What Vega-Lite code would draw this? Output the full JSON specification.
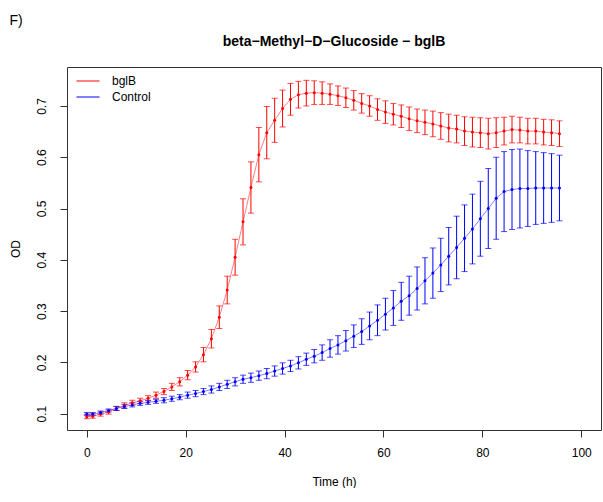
{
  "$schema": "https://vega.github.io/schema/vega-lite/v6.json",
  "background": "white",
  "padding": {"left": 8, "top": 13, "right": 0, "bottom": 0},
  "config": {
    "font": "Liberation Sans",
    "view": {"stroke": "#333", "strokeWidth": 1},
    "axis": {"labelFont": "Liberation Sans", "titleFont": "Liberation Sans", "labelFontSize": 12, "titleFontSize": 12, "labelColor": "#000", "titleColor": "#000", "titleFontWeight": "normal", "tickColor": "#333", "grid": false, "domain": false, "tickSize": 7},
    "title": {"font": "Liberation Sans", "color": "#000"}
  },
  "title": {"text": "F)", "anchor": "start", "frame": "bounds", "fontSize": 14, "fontWeight": "normal", "offset": 7, "dx": 1},
  "datasets": {
    "growth": [
      {"group":"bglB","time":0,"od":0.094,"lo":0.090,"hi":0.098},
      {"group":"bglB","time":1.2,"od":0.095,"lo":0.091,"hi":0.099},
      {"group":"bglB","time":2.8,"od":0.099,"lo":0.095,"hi":0.103},
      {"group":"bglB","time":4.4,"od":0.103,"lo":0.099,"hi":0.107},
      {"group":"bglB","time":6.0,"od":0.110,"lo":0.106,"hi":0.114},
      {"group":"bglB","time":7.6,"od":0.116,"lo":0.111,"hi":0.121},
      {"group":"bglB","time":9.2,"od":0.121,"lo":0.116,"hi":0.126},
      {"group":"bglB","time":10.8,"od":0.125,"lo":0.120,"hi":0.130},
      {"group":"bglB","time":12.4,"od":0.130,"lo":0.125,"hi":0.135},
      {"group":"bglB","time":14.0,"od":0.136,"lo":0.130,"hi":0.142},
      {"group":"bglB","time":15.6,"od":0.143,"lo":0.137,"hi":0.149},
      {"group":"bglB","time":17.2,"od":0.152,"lo":0.145,"hi":0.159},
      {"group":"bglB","time":18.8,"od":0.162,"lo":0.154,"hi":0.170},
      {"group":"bglB","time":20.4,"od":0.175,"lo":0.166,"hi":0.184},
      {"group":"bglB","time":22.0,"od":0.191,"lo":0.181,"hi":0.201},
      {"group":"bglB","time":23.6,"od":0.215,"lo":0.201,"hi":0.229},
      {"group":"bglB","time":25.2,"od":0.246,"lo":0.228,"hi":0.264},
      {"group":"bglB","time":26.8,"od":0.288,"lo":0.266,"hi":0.310},
      {"group":"bglB","time":28.4,"od":0.341,"lo":0.314,"hi":0.368},
      {"group":"bglB","time":30.0,"od":0.405,"lo":0.370,"hi":0.440},
      {"group":"bglB","time":31.6,"od":0.474,"lo":0.429,"hi":0.519},
      {"group":"bglB","time":33.2,"od":0.541,"lo":0.491,"hi":0.591},
      {"group":"bglB","time":34.8,"od":0.605,"lo":0.552,"hi":0.658},
      {"group":"bglB","time":36.4,"od":0.648,"lo":0.597,"hi":0.699},
      {"group":"bglB","time":38.0,"od":0.672,"lo":0.629,"hi":0.715},
      {"group":"bglB","time":39.6,"od":0.695,"lo":0.659,"hi":0.731},
      {"group":"bglB","time":41.2,"od":0.713,"lo":0.682,"hi":0.744},
      {"group":"bglB","time":42.8,"od":0.722,"lo":0.696,"hi":0.748},
      {"group":"bglB","time":44.4,"od":0.725,"lo":0.700,"hi":0.750},
      {"group":"bglB","time":46.0,"od":0.726,"lo":0.703,"hi":0.749},
      {"group":"bglB","time":47.6,"od":0.725,"lo":0.703,"hi":0.747},
      {"group":"bglB","time":49.2,"od":0.723,"lo":0.703,"hi":0.743},
      {"group":"bglB","time":50.8,"od":0.720,"lo":0.701,"hi":0.739},
      {"group":"bglB","time":52.4,"od":0.716,"lo":0.697,"hi":0.735},
      {"group":"bglB","time":54.0,"od":0.711,"lo":0.692,"hi":0.730},
      {"group":"bglB","time":55.6,"od":0.705,"lo":0.686,"hi":0.724},
      {"group":"bglB","time":57.2,"od":0.700,"lo":0.680,"hi":0.720},
      {"group":"bglB","time":58.8,"od":0.693,"lo":0.672,"hi":0.714},
      {"group":"bglB","time":60.4,"od":0.688,"lo":0.666,"hi":0.710},
      {"group":"bglB","time":62.0,"od":0.684,"lo":0.663,"hi":0.705},
      {"group":"bglB","time":63.6,"od":0.680,"lo":0.658,"hi":0.702},
      {"group":"bglB","time":65.2,"od":0.675,"lo":0.652,"hi":0.698},
      {"group":"bglB","time":66.8,"od":0.671,"lo":0.648,"hi":0.694},
      {"group":"bglB","time":68.4,"od":0.668,"lo":0.644,"hi":0.692},
      {"group":"bglB","time":70.0,"od":0.665,"lo":0.640,"hi":0.690},
      {"group":"bglB","time":71.6,"od":0.661,"lo":0.635,"hi":0.687},
      {"group":"bglB","time":73.2,"od":0.657,"lo":0.630,"hi":0.684},
      {"group":"bglB","time":74.8,"od":0.655,"lo":0.628,"hi":0.682},
      {"group":"bglB","time":76.4,"od":0.651,"lo":0.623,"hi":0.679},
      {"group":"bglB","time":78.0,"od":0.649,"lo":0.620,"hi":0.678},
      {"group":"bglB","time":79.6,"od":0.648,"lo":0.619,"hi":0.677},
      {"group":"bglB","time":81.2,"od":0.646,"lo":0.616,"hi":0.676},
      {"group":"bglB","time":82.8,"od":0.648,"lo":0.619,"hi":0.677},
      {"group":"bglB","time":84.4,"od":0.651,"lo":0.624,"hi":0.678},
      {"group":"bglB","time":86.0,"od":0.654,"lo":0.628,"hi":0.680},
      {"group":"bglB","time":87.6,"od":0.653,"lo":0.628,"hi":0.678},
      {"group":"bglB","time":89.2,"od":0.651,"lo":0.626,"hi":0.676},
      {"group":"bglB","time":90.8,"od":0.651,"lo":0.626,"hi":0.676},
      {"group":"bglB","time":92.4,"od":0.649,"lo":0.624,"hi":0.674},
      {"group":"bglB","time":94.0,"od":0.648,"lo":0.623,"hi":0.673},
      {"group":"bglB","time":95.6,"od":0.646,"lo":0.621,"hi":0.671},
      {"group":"Control","time":0,"od":0.099,"lo":0.096,"hi":0.102},
      {"group":"Control","time":1.2,"od":0.099,"lo":0.096,"hi":0.102},
      {"group":"Control","time":2.8,"od":0.102,"lo":0.099,"hi":0.105},
      {"group":"Control","time":4.4,"od":0.106,"lo":0.103,"hi":0.109},
      {"group":"Control","time":6.0,"od":0.110,"lo":0.106,"hi":0.114},
      {"group":"Control","time":7.6,"od":0.114,"lo":0.110,"hi":0.118},
      {"group":"Control","time":9.2,"od":0.117,"lo":0.113,"hi":0.121},
      {"group":"Control","time":10.8,"od":0.120,"lo":0.116,"hi":0.124},
      {"group":"Control","time":12.4,"od":0.122,"lo":0.118,"hi":0.126},
      {"group":"Control","time":14.0,"od":0.124,"lo":0.120,"hi":0.128},
      {"group":"Control","time":15.6,"od":0.126,"lo":0.121,"hi":0.131},
      {"group":"Control","time":17.2,"od":0.129,"lo":0.124,"hi":0.134},
      {"group":"Control","time":18.8,"od":0.132,"lo":0.127,"hi":0.137},
      {"group":"Control","time":20.4,"od":0.136,"lo":0.130,"hi":0.142},
      {"group":"Control","time":22.0,"od":0.139,"lo":0.133,"hi":0.145},
      {"group":"Control","time":23.6,"od":0.143,"lo":0.137,"hi":0.149},
      {"group":"Control","time":25.2,"od":0.147,"lo":0.140,"hi":0.154},
      {"group":"Control","time":26.8,"od":0.152,"lo":0.145,"hi":0.159},
      {"group":"Control","time":28.4,"od":0.157,"lo":0.149,"hi":0.165},
      {"group":"Control","time":30.0,"od":0.162,"lo":0.154,"hi":0.170},
      {"group":"Control","time":31.6,"od":0.167,"lo":0.159,"hi":0.175},
      {"group":"Control","time":33.2,"od":0.170,"lo":0.161,"hi":0.179},
      {"group":"Control","time":34.8,"od":0.174,"lo":0.165,"hi":0.183},
      {"group":"Control","time":36.4,"od":0.178,"lo":0.168,"hi":0.188},
      {"group":"Control","time":38.0,"od":0.183,"lo":0.173,"hi":0.193},
      {"group":"Control","time":39.6,"od":0.188,"lo":0.177,"hi":0.199},
      {"group":"Control","time":41.2,"od":0.193,"lo":0.182,"hi":0.204},
      {"group":"Control","time":42.8,"od":0.199,"lo":0.187,"hi":0.211},
      {"group":"Control","time":44.4,"od":0.206,"lo":0.194,"hi":0.218},
      {"group":"Control","time":46.0,"od":0.212,"lo":0.199,"hi":0.225},
      {"group":"Control","time":47.6,"od":0.219,"lo":0.204,"hi":0.234},
      {"group":"Control","time":49.2,"od":0.227,"lo":0.210,"hi":0.244},
      {"group":"Control","time":50.8,"od":0.234,"lo":0.216,"hi":0.252},
      {"group":"Control","time":52.4,"od":0.242,"lo":0.222,"hi":0.262},
      {"group":"Control","time":54.0,"od":0.251,"lo":0.229,"hi":0.273},
      {"group":"Control","time":55.6,"od":0.260,"lo":0.235,"hi":0.285},
      {"group":"Control","time":57.2,"od":0.271,"lo":0.244,"hi":0.298},
      {"group":"Control","time":58.8,"od":0.282,"lo":0.252,"hi":0.312},
      {"group":"Control","time":60.4,"od":0.294,"lo":0.263,"hi":0.325},
      {"group":"Control","time":62.0,"od":0.306,"lo":0.272,"hi":0.340},
      {"group":"Control","time":63.6,"od":0.319,"lo":0.282,"hi":0.356},
      {"group":"Control","time":65.2,"od":0.330,"lo":0.292,"hi":0.368},
      {"group":"Control","time":66.8,"od":0.344,"lo":0.302,"hi":0.386},
      {"group":"Control","time":68.4,"od":0.359,"lo":0.314,"hi":0.404},
      {"group":"Control","time":70.0,"od":0.374,"lo":0.325,"hi":0.423},
      {"group":"Control","time":71.6,"od":0.390,"lo":0.338,"hi":0.442},
      {"group":"Control","time":73.2,"od":0.407,"lo":0.351,"hi":0.463},
      {"group":"Control","time":74.8,"od":0.424,"lo":0.363,"hi":0.485},
      {"group":"Control","time":76.4,"od":0.442,"lo":0.377,"hi":0.507},
      {"group":"Control","time":78.0,"od":0.460,"lo":0.392,"hi":0.528},
      {"group":"Control","time":79.6,"od":0.480,"lo":0.407,"hi":0.553},
      {"group":"Control","time":81.2,"od":0.500,"lo":0.422,"hi":0.578},
      {"group":"Control","time":82.8,"od":0.520,"lo":0.440,"hi":0.600},
      {"group":"Control","time":84.4,"od":0.533,"lo":0.455,"hi":0.611},
      {"group":"Control","time":86.0,"od":0.537,"lo":0.459,"hi":0.615},
      {"group":"Control","time":87.6,"od":0.539,"lo":0.462,"hi":0.616},
      {"group":"Control","time":89.2,"od":0.539,"lo":0.465,"hi":0.613},
      {"group":"Control","time":90.8,"od":0.540,"lo":0.469,"hi":0.611},
      {"group":"Control","time":92.4,"od":0.540,"lo":0.471,"hi":0.609},
      {"group":"Control","time":94.0,"od":0.540,"lo":0.473,"hi":0.607},
      {"group":"Control","time":95.6,"od":0.540,"lo":0.476,"hi":0.604}
    ]
  },
  "vconcat": [
    {
      "width": 534,
      "height": 363,
      "title": {"text": "beta−Methyl−D−Glucoside − bglB", "fontSize": 14, "fontWeight": "bold", "offset": 18, "anchor": "middle"},
      "data": {"name": "growth"},
      "encoding": {
        "x": {"field": "time", "type": "quantitative", "scale": {"domain": [-4, 104], "nice": false, "zero": false},
              "axis": {"title": "Time (h)", "values": [0, 20, 40, 60, 80, 100], "labelPadding": 10, "titlePadding": 18, "labelFlush": false}},
        "color": {"field": "group", "type": "nominal", "scale": {"domain": ["bglB", "Control"], "range": ["#FF0000", "#0000FF"]}, "legend": null}
      },
      "layer": [
        {
          "mark": {"type": "line", "strokeWidth": 1, "opacity": 0.5},
          "encoding": {
            "y": {"field": "od", "type": "quantitative", "title": "OD",
                  "scale": {"domain": [0.068, 0.776], "nice": false, "zero": false},
                  "axis": {"values": [0.1, 0.2, 0.3, 0.4, 0.5, 0.6, 0.7], "format": ".1f", "labelAngle": -90, "labelAlign": "center", "labelBaseline": "bottom", "labelPadding": 12, "titleX": -52, "titleBaseline": "middle", "titleAngle": -90}},
            "color": {"field": "group", "type": "nominal", "scale": {"domain": ["bglB", "Control"], "range": ["#FF0000", "#0000FF"]},
                      "legend": {"orient": "none", "legendX": 15, "legendY": 8, "title": null, "symbolType": "M-2.3,0L2.3,0", "symbolSize": 100, "symbolStrokeWidth": 1, "symbolOpacity": 1, "labelFontSize": 12, "labelFont": "Liberation Sans", "labelColor": "#000", "labelOffset": 18, "rowPadding": 4, "padding": 0}}
          }
        },
        {
          "mark": {"type": "rule", "strokeWidth": 1},
          "encoding": {
            "y": {"field": "lo", "type": "quantitative", "title": "OD", "scale": {"domain": [0.068, 0.776], "nice": false, "zero": false}},
            "y2": {"field": "hi"}
          }
        },
        {
          "mark": {"type": "tick", "orient": "horizontal", "size": 6, "thickness": 1},
          "encoding": {
            "y": {"field": "lo", "type": "quantitative", "title": "OD", "scale": {"domain": [0.068, 0.776], "nice": false, "zero": false}}
          }
        },
        {
          "mark": {"type": "tick", "orient": "horizontal", "size": 6, "thickness": 1},
          "encoding": {
            "y": {"field": "hi", "type": "quantitative", "title": "OD", "scale": {"domain": [0.068, 0.776], "nice": false, "zero": false}}
          }
        },
        {
          "mark": {"type": "point", "filled": true, "size": 9, "opacity": 1},
          "encoding": {
            "y": {"field": "od", "type": "quantitative", "title": "OD", "scale": {"domain": [0.068, 0.776], "nice": false, "zero": false}}
          }
        }
      ]
    }
  ]
}
